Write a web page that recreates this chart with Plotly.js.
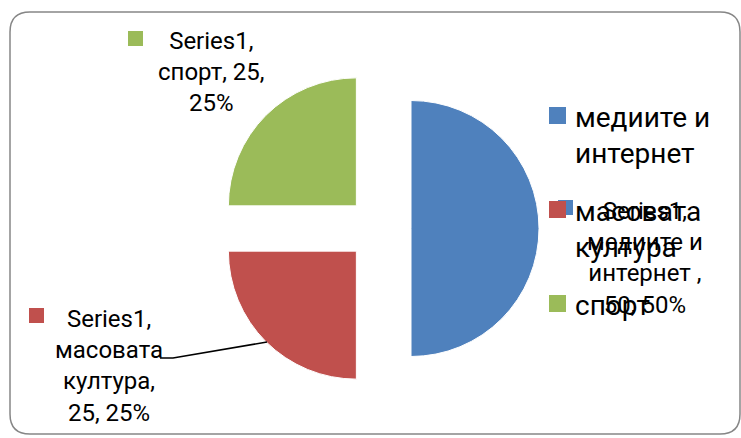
<!DOCTYPE html>
<html>
<head>
<meta charset="utf-8">
<script src="https://cdn.plot.ly/plotly-3.0.1.min.js"></script>
<style>html,body{margin:0;padding:0;background:#fff;}#chart{width:741px;height:438px;}</style>
</head>
<body>
<div id="chart"></div>
<script>
const seriesName = 'Series1';
const labels = ['медиите и интернет', 'масовата култура', 'спорт'];
const values = [50, 25, 25];
const colors = ['#4F81BD', '#C0504D', '#9BBB59'];
const legendLabels = ['медиите и<br>интернет', 'масовата<br>култура', 'спорт'];
const dataLabelNames = ['медиите и<br>интернет ', 'масовата<br>култура', 'спорт'];

const W = 741, H = 438;
const px = x => x / W;
const py = y => 1 - y / H;

const total = values.reduce((a, b) => a + b, 0);
const pct = values.map(v => Math.round(v / total * 100));
const dataLabelText = [
  seriesName + ',<br>' + dataLabelNames[0] + ',<br>' + values[0] + ', ' + pct[0] + '%',
  seriesName + ',<br>' + dataLabelNames[1] + ',<br>' + values[1] + ', ' + pct[1] + '%',
  seriesName + ',<br>' + dataLabelNames[2] + ', ' + values[2] + ',<br>' + pct[2] + '%'
];

// label layout (pixels): [centerX, centerY, keyX0, keyY0]
const labelPos = [[645, 258, 558, 200], [109, 366, 29, 308], [211, 72, 128, 31]];
const legendPos = [[549, 107], [549, 201], [549, 295]];

const annotations = [];
const shapes = [];

// rounded chart border
(function () {
  const x0 = 10, x1 = 740, y0 = 12, y1 = 434, r = 20;
  const P = (x, y) => px(x) + ',' + py(y);
  const path = 'M' + P(x0 + r, y0) + ' L' + P(x1 - r, y0) + ' Q' + P(x1, y0) + ' ' + P(x1, y0 + r) +
    ' L' + P(x1, y1 - r) + ' Q' + P(x1, y1) + ' ' + P(x1 - r, y1) +
    ' L' + P(x0 + r, y1) + ' Q' + P(x0, y1) + ' ' + P(x0, y1 - r) +
    ' L' + P(x0, y0 + r) + ' Q' + P(x0, y0) + ' ' + P(x0 + r, y0) + ' Z';
  shapes.push({type: 'path', xref: 'paper', yref: 'paper', path: path,
    line: {color: '#868686', width: 1.5}, layer: 'below'});
})();

// data labels
labels.forEach((lab, i) => {
  const p = labelPos[i];
  annotations.push({xref: 'paper', yref: 'paper', x: px(p[0]), y: py(p[1]),
    xanchor: 'center', yanchor: 'middle', align: 'center', showarrow: false,
    text: dataLabelText[i], font: {family: 'Roboto, sans-serif', size: 24, color: '#000'}});
  shapes.push({type: 'rect', xref: 'paper', yref: 'paper',
    x0: px(p[2]), x1: px(p[2] + 15), y0: py(p[3] + 15), y1: py(p[3]),
    fillcolor: colors[i], line: {width: 0}});
});

// leader line for масовата култура
shapes.push({type: 'path', xref: 'paper', yref: 'paper',
  path: 'M' + px(160) + ',' + py(358) + ' L' + px(173) + ',' + py(358) + ' L' + px(267) + ',' + py(342),
  line: {color: '#000', width: 1.5}});

// legend
legendLabels.forEach((lab, i) => {
  const p = legendPos[i];
  shapes.push({type: 'rect', xref: 'paper', yref: 'paper',
    x0: px(p[0]), x1: px(p[0] + 17), y0: py(p[1] + 17), y1: py(p[1]),
    fillcolor: colors[i], line: {width: 0}});
  annotations.push({xref: 'paper', yref: 'paper', x: px(p[0] + 24), y: py(p[1] - 8),
    xanchor: 'left', yanchor: 'top', align: 'left', showarrow: false,
    text: lab, font: {family: 'Roboto, sans-serif', size: 28, color: '#000'}});
});

const trace = {
  type: 'pie',
  labels: labels,
  values: values,
  sort: false,
  direction: 'clockwise',
  rotation: 0,
  pull: [0.25, 0.25, 0.25],
  marker: {colors: colors, line: {color: '#ffffff', width: 1}},
  textinfo: 'none',
  hoverinfo: 'label+value+percent',
  domain: {x: [px(219), px(539)], y: [py(388.5), py(68.5)]},
  showlegend: false
};

const layout = {
  width: W, height: H,
  margin: {l: 0, r: 0, t: 0, b: 0},
  paper_bgcolor: '#ffffff',
  plot_bgcolor: '#ffffff',
  font: {family: 'Roboto, sans-serif', color: '#000'},
  showlegend: false,
  annotations: annotations,
  shapes: shapes
};

Plotly.newPlot('chart', [trace], layout, {displayModeBar: false, staticPlot: true});
</script>
</body>
</html>
